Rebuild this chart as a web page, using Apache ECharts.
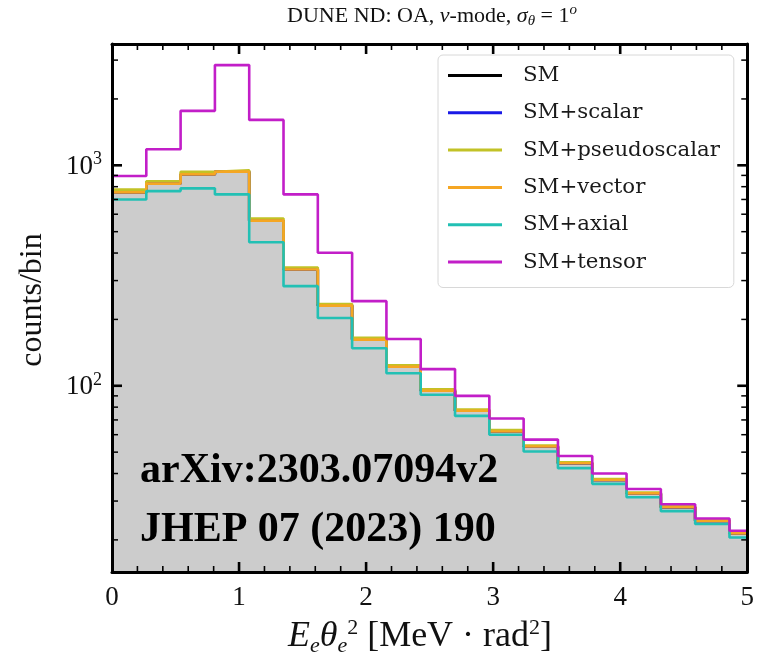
<!DOCTYPE html>
<html>
<head>
<meta charset="utf-8">
<script src="https://cdn.jsdelivr.net/npm/echarts@6/dist/echarts.min.js"></script>
<style>html,body{margin:0;padding:0;background:#fff}#c{width:757px;height:668px}</style>
</head>
<body>
<div id="c"></div>
<script>
// Bin edges (E_e theta_e^2, MeV rad^2)
var edges = [0, 0.27, 0.54, 0.81, 1.08, 1.35, 1.62, 1.89, 2.16, 2.43, 2.70, 2.97, 3.24, 3.51, 3.78, 4.05, 4.32, 4.59, 4.86, 5.13];
// counts per bin
var smCounts     = [754, 826, 910, 936, 561, 337, 231, 162, 122, 95, 77, 62, 53, 44.5, 37.4, 32.5, 28.1, 24.4, 21.4];
var scalarCounts = [754, 826, 910, 936, 561, 337, 231, 162, 122, 95, 77, 62, 53, 44.5, 37.4, 32.5, 28.1, 24.4, 21.4];
var pseudoCounts = [776, 846, 934, 950, 574, 344, 235, 165, 124, 96.5, 78, 63, 53.6, 45, 37.8, 32.8, 28.4, 24.6, 21.6];
var vectorCounts = [754, 826, 910, 936, 561, 337, 231, 162, 122, 95, 77, 62, 53, 44.5, 37.4, 32.5, 28.1, 24.4, 21.4];
var axialCounts  = [700, 764, 786, 738, 448, 283, 203, 148, 114, 91, 73, 60, 50.3, 42.3, 35.9, 31.2, 27.0, 23.6, 20.5];
var tensorCounts = [894, 1183, 1766, 2848, 1607, 738, 401, 242, 163, 119, 90, 71, 57, 48, 40, 34, 29, 25, 22];

var seriesNames = ['SM', 'SM+scalar', 'SM+pseudoscalar', 'SM+vector', 'SM+axial', 'SM+tensor'];
var seriesColors = ['#000000', '#1a1ae6', '#c2c226', '#f5a623', '#22c0b4', '#c21ec8'];

// ticks
var yMajorTicks = [100, 1000];
var yMinorTicks = [20, 30, 40, 50, 60, 70, 80, 90, 200, 300, 400, 500, 600, 700, 800, 900, 2000, 3000];
var xTickLabels = [0, 1, 2, 3, 4, 5];
var xMajorTicks = [1, 2, 3, 4];
var xMinorTicks = [0.2, 0.4, 0.6, 0.8, 1.2, 1.4, 1.6, 1.8, 2.2, 2.4, 2.6, 2.8, 3.2, 3.4, 3.6, 3.8, 4.2, 4.4, 4.6, 4.8];
var yMin = 14.3, yMax = 3550;
var xMin = 0, xMax = 5;

var GRID = { left: 112, right: 8, top: 44, bottom: 96 };

function stepData(vals) {
  var d = [];
  for (var i = 0; i < vals.length; i++) d.push([edges[i], vals[i]]);
  d.push([edges[vals.length], vals[vals.length - 1]]);
  return d;
}

var allCounts = [smCounts, scalarCounts, pseudoCounts, vectorCounts, axialCounts, tensorCounts];
var series = [];
for (var k = 0; k < allCounts.length; k++) {
  var s = {
    name: seriesNames[k], type: 'line', step: 'end', data: stepData(allCounts[k]),
    showSymbol: false, symbol: 'none', animation: false, clip: true,
    color: seriesColors[k],
    lineStyle: { color: seriesColors[k], width: 2.6 },
    itemStyle: { color: seriesColors[k] },
    z: 2 + k
  };
  if (k === 0) s.areaStyle = { color: '#cccccc', opacity: 1, origin: 'start' };
  series.push(s);
}

var yTickData = [];
yMajorTicks.forEach(function (v) { yTickData.push([xTickLabels[0], v, 1]); });
yMinorTicks.forEach(function (v) { yTickData.push([xTickLabels[0], v, 0]); });

// tick marks on all four sides (inside), placed through the chart's own scales
series.push({
  type: 'custom', data: yTickData, encode: { x: 0, y: 1 }, silent: true, z: 20, clip: false, animation: false,
  renderItem: function (params, api) {
    var v = api.value(1), major = api.value(2) === 1;
    var len = major ? 10 : 6, w = major ? 2.6 : 1.5;
    var st = { stroke: '#000', lineWidth: w };
    var pL = api.coord([xTickLabels[0], v]);
    var pR = api.coord([xTickLabels[xTickLabels.length - 1], v]);
    var children = [
      { type: 'line', shape: { x1: pL[0], y1: pL[1], x2: pL[0] + len, y2: pL[1] }, style: st },
      { type: 'line', shape: { x1: pR[0], y1: pR[1], x2: pR[0] - len, y2: pR[1] }, style: st }
    ];
    if (params.dataIndex === 0) {
      var cs = params.coordSys;
      var yB = cs.y + cs.height, yT = cs.y;
      var addX = function (xv, isMajor) {
        var px = api.coord([xv, v])[0];
        var l = isMajor ? 10 : 6, ww = isMajor ? 2.6 : 1.6;
        children.push({ type: 'rect', shape: { x: px - ww / 2, y: yB - l, width: ww, height: l }, style: { fill: '#000' } });
        children.push({ type: 'rect', shape: { x: px - ww / 2, y: yT, width: ww, height: l }, style: { fill: '#000' } });
      };
      xMajorTicks.forEach(function (xv) { addX(xv, true); });
      xMinorTicks.forEach(function (xv) { addX(xv, false); });
    }
    return { type: 'group', children: children };
  }
});

var serif = 'Liberation Serif';
var xAxisCommon = {
  type: 'value', min: xMin, max: xMax, interval: 1, z: 30,
  axisLine: { show: true, onZero: false, lineStyle: { color: '#000', width: 3 } },
  axisTick: { show: false }, minorTick: { show: false },
  splitLine: { show: false }, minorSplitLine: { show: false }
};
var yAxisCommon = {
  type: 'log', logBase: 10, min: yMin, max: yMax, z: 30,
  axisLine: { show: true, onZero: false, lineStyle: { color: '#000', width: 3 } },
  axisTick: { show: false }, splitLine: { show: false }
};

var graphics = [
  { type: 'text', id: 'title', x: 432, y: 16, z: 50,
    style: { text: '{n|DUNE ND: OA, }{i|ν}{n|-mode, }{i|σ}{sub|θ}{n| = 1}{sup|o}', textAlign: 'center', textVerticalAlign: 'middle',
      rich: {
        n: { fontFamily: serif, fontSize: 22, fill: '#111', lineHeight: 26, verticalAlign: 'middle' },
        i: { fontFamily: serif, fontStyle: 'italic', fontSize: 22, fill: '#111', lineHeight: 26, verticalAlign: 'middle' },
        sub: { fontFamily: serif, fontStyle: 'italic', fontSize: 15, fill: '#111', lineHeight: 15, verticalAlign: 'bottom' },
        sup: { fontFamily: serif, fontStyle: 'italic', fontSize: 15, fill: '#111', lineHeight: 15, verticalAlign: 'top' }
      } } },
  { type: 'text', id: 'xname', x: 420, y: 637, z: 50,
    style: { text: '{i|E}{sub|e}{i|θ}{sub|e}{sup|2}{n| [MeV · rad}{sup|2}{n|]}', textAlign: 'center', textVerticalAlign: 'middle',
      rich: {
        n: { fontFamily: serif, fontSize: 36, fill: '#111', lineHeight: 40, verticalAlign: 'middle' },
        i: { fontFamily: serif, fontStyle: 'italic', fontSize: 36, fill: '#111', lineHeight: 40, verticalAlign: 'middle' },
        sub: { fontFamily: serif, fontStyle: 'italic', fontSize: 22, fill: '#111', lineHeight: 22, verticalAlign: 'bottom' },
        sup: { fontFamily: serif, fontSize: 22, fill: '#111', lineHeight: 22, verticalAlign: 'top' }
      } } },
  { type: 'text', id: 'yname', x: 33, y: 300, rotation: Math.PI / 2, z: 50,
    style: { text: 'counts/bin', fontFamily: serif, fontSize: 32, fill: '#111', textAlign: 'center', textVerticalAlign: 'middle' } },
  { type: 'text', id: 'wm1', x: 140, y: 471, z: 60,
    style: { text: 'arXiv:2303.07094v2', fontFamily: serif, fontWeight: 'bold', fontSize: 42, fill: '#000', textVerticalAlign: 'middle' } },
  { type: 'text', id: 'wm2', x: 140, y: 530, z: 60,
    style: { text: 'JHEP 07 (2023) 190', fontFamily: serif, fontWeight: 'bold', fontSize: 42, fill: '#000', textVerticalAlign: 'middle' } }
];

var chart = echarts.init(document.getElementById('c'), null, { renderer: 'canvas' });
chart.setOption({
  animation: false,
  backgroundColor: '#fff',
  grid: { left: GRID.left, right: GRID.right, top: GRID.top, bottom: GRID.bottom, containLabel: false },
  xAxis: [
    Object.assign({}, xAxisCommon, { position: 'bottom',
      axisLabel: { show: true, margin: 12, color: '#111', fontFamily: serif, fontSize: 27,
        formatter: function (v) { return xTickLabels.indexOf(v) >= 0 ? String(v) : ''; } } }),
    Object.assign({}, xAxisCommon, { position: 'top', axisLabel: { show: false } })
  ],
  yAxis: [
    Object.assign({}, yAxisCommon, { position: 'left',
      axisLabel: { show: true, margin: 10, color: '#111', fontFamily: serif,
        formatter: function (v) {
          for (var i = 0; i < yMajorTicks.length; i++) {
            if (Math.abs(v - yMajorTicks[i]) < 1e-6 * yMajorTicks[i]) {
              return '{b|10}{s|' + Math.round(Math.log10(v)) + '}';
            }
          }
          return '';
        },
        rich: {
          b: { fontFamily: serif, fontSize: 27, color: '#111', lineHeight: 30, verticalAlign: 'bottom' },
          s: { fontFamily: serif, fontSize: 18, color: '#111', lineHeight: 18, verticalAlign: 'top' }
        } } }),
    Object.assign({}, yAxisCommon, { position: 'right', axisLabel: { show: false } })
  ],
  legend: {
    show: true, orient: 'vertical', left: 438, top: 55,
    data: seriesNames, icon: 'rect', itemWidth: 54, itemHeight: 3, itemGap: 14.3,
    backgroundColor: '#fff', borderColor: '#d8d8d8', borderWidth: 1, borderRadius: 5,
    padding: [9, 14, 14, 10],
    textStyle: { fontFamily: 'DejaVu Serif', fontSize: 21.3, color: '#1a1a1a', lineHeight: 23, padding: [0, 0, 0, 16] },
    selectedMode: false
  },
  graphic: graphics,
  series: series
});
</script>
</body>
</html>
